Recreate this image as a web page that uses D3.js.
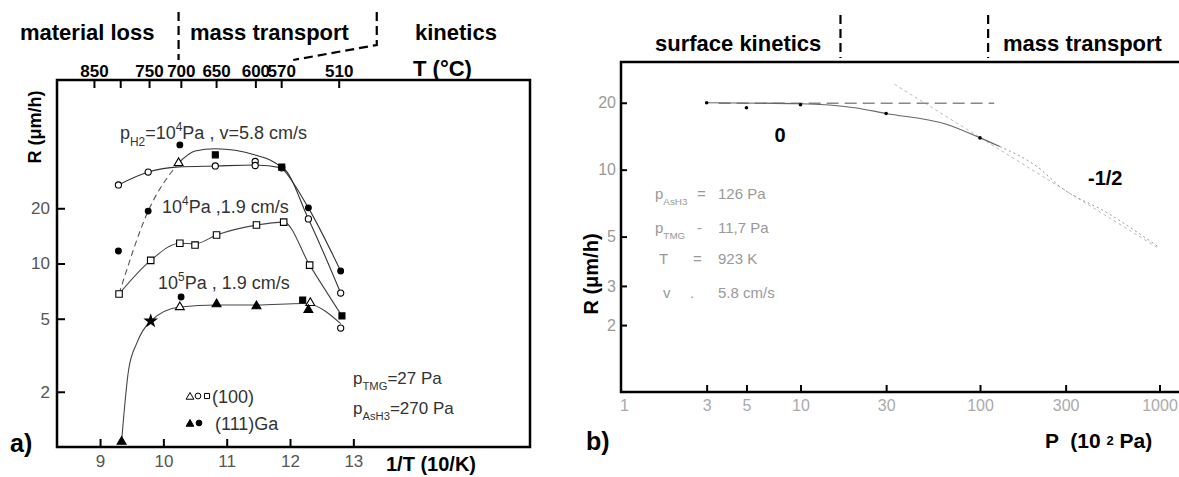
<!DOCTYPE html>
<html>
<head>
<meta charset="utf-8">
<script src="https://cdn.jsdelivr.net/npm/d3@7"></script>
<style>
  body { margin: 0; background: #fff; }
  svg { display: block; }
  text { white-space: pre; }
</style>
</head>
<body>
<svg id="chart" width="1179" height="477"></svg>
<script>
// ---------- Panel a: growth rate R versus reciprocal temperature ----------
const tempTicksC     = [850, 800, 750, 700, 650, 600, 570, 510];
const tempTickLabels = ["850", "", "750", "700", "650", "600", "570", "510"];
const invTTicks      = [9, 10, 11, 12, 13];
const rateTicksA     = [2, 5, 10, 20];

// drawn fits, points are [1/T (1e-4/K), R (um/h)]
const fitH2Fast100     = [[9.29, 26.8], [9.76, 31.5], [10.24, 33.6], [10.82, 34.0], [11.45, 34.4], [11.87, 33.2], [12.29, 17.5], [12.80, 6.9]];
const fitH2Fast111Rise = [[9.30, 6.82], [9.76, 19.3], [10.24, 35.3]];
const fitH2Fast111     = [[10.24, 35.3], [10.50, 41.0], [10.82, 42.2], [11.45, 39.0], [11.87, 33.2], [12.29, 20.1], [12.80, 9.1]];
const fitH2Slow        = [[9.30, 6.82], [9.80, 10.4], [10.26, 12.9], [10.50, 12.8], [10.84, 14.3], [11.47, 16.2], [11.90, 16.8], [12.31, 9.8], [12.82, 5.18]];
const fitHighP         = [[9.34, 1.07], [9.45, 2.62], [9.58, 3.68], [9.80, 4.86], [10.26, 5.79], [10.84, 5.94], [11.47, 5.94], [12.20, 6.05], [12.32, 6.0], [12.80, 4.7]];

// measured points
const openCircles     = [[9.29, 26.8], [9.76, 31.5], [10.82, 34.0], [11.45, 36.0], [11.45, 34.2], [11.87, 33.2], [12.29, 17.5], [12.80, 6.9], [12.80, 4.45]];
const filledCircles   = [[10.26, 44.3], [9.76, 19.3], [9.29, 11.7], [12.29, 20.1], [12.80, 9.1], [10.28, 6.57]];
const openSquares     = [[9.30, 6.82], [9.80, 10.4], [10.26, 12.9], [10.50, 12.6], [10.84, 14.3], [11.47, 16.2], [11.90, 16.8], [12.31, 9.8]];
const filledSquares   = [[10.82, 39.1], [11.87, 33.5], [12.82, 5.18], [12.20, 6.32]];
const openTriangles   = [[10.24, 35.3], [10.26, 5.79], [12.32, 6.1]];
const filledTriangles = [[9.34, 1.07], [12.29, 5.58], [10.84, 6.0], [11.47, 5.85]];
const filledStars     = [[9.80, 4.86]];

// regime boundaries on the 1/T axis
const regimeBoundsA = [10.24, 13.37];
const regimeKinkA   = 12.05;

// ---------- Panel b: growth rate R versus AsH3 pressure ----------
const pressureTicks = [1, 3, 5, 10, 30, 100, 300, 1000];
const rateTicksB    = [2, 3, 5, 10, 20];
const pressureData  = [3, 5, 10, 30, 100];
const rateData      = [20.0, 19.0, 19.6, 17.9, 13.9];
const fitB          = [[3, 20.0], [10, 19.8], [20, 19.0], [30, 17.9], [65, 16.0], [100, 13.9], [129, 12.7]];
const fitBTail      = [[129, 12.7], [212, 10.2], [284, 8.3], [511, 6.4], [987, 4.5]];
const slopeZero     = [[3.5, 19.9], [120, 19.9]];
const slopeHalf     = [[33.4, 24.2], [1000, 4.4]];
const regimeBoundsB = [16.7, 111];

// ---------------------------------------------------------------------------
const svg  = d3.select("#chart");
const FONT = "'Liberation Sans', Arial, Helvetica, sans-serif";
const INK  = "#000";

// text with sub/superscript runs; a run may carry its own x position
function rich(g, x, y, parts, size, fill, anchor) {
  const t = g.append("text")
    .attr("x", x).attr("y", y)
    .attr("font-family", FONT)
    .attr("font-size", size)
    .attr("fill", fill)
    .attr("text-anchor", anchor || "start");
  let shift = 0;
  parts.forEach(([s, k, px]) => {
    const target = k === "sub" ? size * 0.38 : k === "sup" ? -size * 0.42 : 0;
    const span = t.append("tspan")
      .attr("dy", target - shift)
      .attr("font-size", k ? size * 0.66 : size)
      .text(s);
    if (px !== undefined) span.attr("x", px);
    shift = target;
  });
  return t;
}

function boldText(x, y, s, size, anchor) {
  return svg.append("text")
    .attr("x", x).attr("y", y)
    .attr("font-family", FONT)
    .attr("font-weight", "bold")
    .attr("font-size", size)
    .attr("text-anchor", anchor || "start")
    .attr("fill", INK)
    .text(s);
}

function styleAxis(g, size, fill, weight) {
  g.select(".domain").remove();
  g.selectAll(".tick line").attr("stroke", INK).attr("stroke-width", 2);
  g.selectAll(".tick text")
    .attr("font-family", FONT)
    .attr("font-size", size)
    .attr("font-weight", weight || "normal")
    .attr("fill", fill);
}

// ===== Panel a =====
const A  = { left: 57, right: 530, top: 80, bottom: 447 };
const xA = d3.scaleLinear().domain([8.32, 15.79]).range([A.left, A.right]);
const yA = d3.scaleLog().domain([1, 100]).range([A.bottom, A.top]);
const toInvT = c => 1e4 / (c + 273.15);

const gA = svg.append("g");

// axes
const axBottomA = gA.append("g").attr("transform", `translate(0,${A.bottom})`)
  .call(d3.axisBottom(xA).tickValues(invTTicks).tickSize(-8).tickPadding(8).tickFormat(d3.format("d")));
styleAxis(axBottomA, 17, "#555");

const axLeftA = gA.append("g").attr("transform", `translate(${A.left},0)`)
  .call(d3.axisLeft(yA).tickValues(rateTicksA).tickSize(-8).tickPadding(7).tickFormat(d3.format("d")));
styleAxis(axLeftA, 17, "#555");

const axTopA = gA.append("g").attr("transform", `translate(0,${A.top})`)
  .call(d3.axisTop(xA).tickValues(tempTicksC.map(toInvT)).tickSize(-8).tickPadding(3)
    .tickFormat((d, i) => tempTickLabels[i]));
styleAxis(axTopA, 17, INK, "bold");

// frame
gA.append("rect")
  .attr("x", A.left).attr("y", A.top)
  .attr("width", A.right - A.left).attr("height", A.bottom - A.top)
  .attr("fill", "none").attr("stroke", INK).attr("stroke-width", 2.5);

// fitted curves
const lineA = d3.line().x(d => xA(d[0])).y(d => yA(d[1])).curve(d3.curveMonotoneX);
const curveA = (data, dash, color) => gA.append("path")
  .attr("d", lineA(data))
  .attr("fill", "none")
  .attr("stroke", color || "#333")
  .attr("stroke-width", 1.1)
  .attr("stroke-dasharray", dash || null);

curveA(fitH2Fast100);
curveA(fitH2Fast111Rise, "6,4", "#555");
curveA(fitH2Fast111);
curveA(fitH2Slow, null, "#444");
curveA(fitHighP, null, "#444");

// measured points
const sym = (type, size) => d3.symbol().type(type).size(size)();
const pointsA = (data, type, size, filled) => gA.append("g").selectAll("path")
  .data(data).join("path")
  .attr("transform", d => `translate(${xA(d[0])},${yA(d[1])})`)
  .attr("d", sym(type, size))
  .attr("fill", filled ? INK : "#fff")
  .attr("stroke", INK)
  .attr("stroke-width", 1.1);

pointsA(openSquares, d3.symbolSquare, 42, false);
pointsA(openCircles, d3.symbolCircle, 30, false);
pointsA(openTriangles, d3.symbolTriangle, 34, false);
pointsA(filledSquares, d3.symbolSquare, 36, true);
pointsA(filledCircles, d3.symbolCircle, 26, true);
pointsA(filledTriangles, d3.symbolTriangle, 34, true);
pointsA(filledStars, d3.symbolStar, 40, true);

// condition labels
const noteA = "#333";
rich(gA, 120, 139, [["p"], ["H", "sub"], ["2", "sub"], ["=10"], ["4", "sup"], ["Pa , v=5.8 cm/s"]], 18, noteA);
rich(gA, 162, 213, [["10"], ["4", "sup"], ["Pa ,1.9 cm/s"]], 18, noteA);
rich(gA, 158, 289, [["10"], ["5", "sup"], ["Pa , 1.9 cm/s"]], 18, noteA);
rich(gA, 353, 384, [["p"], ["TMG", "sub"], ["=27 Pa"]], 17, noteA);
rich(gA, 353, 414, [["p"], ["AsH", "sub"], ["3", "sub"], ["=270 Pa"]], 17, noteA);

// symbol key
const keyA = gA.append("g");
[[d3.symbolTriangle, 190, 397, false], [d3.symbolCircle, 198, 396, false], [d3.symbolSquare, 207, 396, false],
 [d3.symbolTriangle, 190, 424, true], [d3.symbolCircle, 199, 423, true]].forEach(([t, x, y, f]) => {
  keyA.append("path")
    .attr("transform", `translate(${x},${y})`)
    .attr("d", sym(t, 26))
    .attr("fill", f ? INK : "#fff")
    .attr("stroke", INK).attr("stroke-width", 1);
});
rich(keyA, 212, 403, [["(100)"]], 18, noteA);
rich(keyA, 215, 430, [["(111)Ga"]], 18, noteA);

// regime header
boldText(20, 40, "material loss", 22);
boldText(190, 40, "mass transport", 22);
boldText(415, 40, "kinetics", 22);
boldText(413, 76, "T (°C)", 22);
const dashA = "9,5";
gA.append("line")
  .attr("x1", xA(regimeBoundsA[0])).attr("x2", xA(regimeBoundsA[0]))
  .attr("y1", 12).attr("y2", 60)
  .attr("stroke", INK).attr("stroke-width", 2.2).attr("stroke-dasharray", dashA);
gA.append("path")
  .attr("d", `M${xA(regimeBoundsA[1])},12 L${xA(regimeBoundsA[1])},45 L${xA(regimeKinkA)},60`)
  .attr("fill", "none")
  .attr("stroke", INK).attr("stroke-width", 2.2).attr("stroke-dasharray", dashA);

// axis titles
boldText(0, 0, "R (μm/h)", 18, "middle").attr("transform", "translate(41,127) rotate(-90)");
boldText(386, 471, "1/T (10/K)", 20);
boldText(10, 452, "a)", 25);

// ===== Panel b =====
const B  = { left: 621, right: 1179, top: 62, bottom: 392 };
const xB = d3.scaleLog().domain([1, Math.pow(10, (B.right - B.left) / 179.5)]).range([B.left, B.right]);
const yB = d3.scaleLog().domain([1, 30.5]).range([B.bottom, B.top]);

const gB = svg.append("g");

const axBottomB = gB.append("g").attr("transform", `translate(0,${B.bottom})`)
  .call(d3.axisBottom(xB).tickValues(pressureTicks).tickSize(-7).tickPadding(8).tickFormat(d3.format("d")));
styleAxis(axBottomB, 16, "#aaa");
axBottomB.selectAll(".tick").filter(d => d === 1).select("line").remove();
axBottomB.selectAll(".tick").filter(d => d === 1).select("text").attr("dx", 3);

const axLeftB = gB.append("g").attr("transform", `translate(${B.left},0)`)
  .call(d3.axisLeft(yB).tickValues(rateTicksB).tickSize(-6).tickPadding(5).tickFormat(d3.format("d")));
styleAxis(axLeftB, 16, "#999");

// open frame: left, top and bottom edges
gB.append("path")
  .attr("d", `M${B.right},${B.top} L${B.left},${B.top} L${B.left},${B.bottom} L${B.right},${B.bottom}`)
  .attr("fill", "none").attr("stroke", INK).attr("stroke-width", 2.5);

const lineB = d3.line().x(d => xB(d[0])).y(d => yB(d[1]));
gB.append("path").attr("d", lineB(slopeHalf))
  .attr("fill", "none").attr("stroke", "#bbb").attr("stroke-width", 1).attr("stroke-dasharray", "3,3");
gB.append("path").attr("d", lineB(slopeZero))
  .attr("fill", "none").attr("stroke", "#888").attr("stroke-width", 1.3).attr("stroke-dasharray", "12,6");
gB.append("path").attr("d", lineB.curve(d3.curveMonotoneX)(fitB))
  .attr("fill", "none").attr("stroke", "#666").attr("stroke-width", 1.1);
gB.append("path").attr("d", lineB.curve(d3.curveMonotoneX)(fitBTail))
  .attr("fill", "none").attr("stroke", "#999").attr("stroke-width", 1).attr("stroke-dasharray", "2,3");

gB.append("g").selectAll("circle")
  .data(pressureData.map((p, i) => [p, rateData[i]])).join("circle")
  .attr("cx", d => xB(d[0])).attr("cy", d => yB(d[1]))
  .attr("r", 1.8).attr("fill", INK);

// slope labels
boldText(780, 142, "0", 20, "middle");
boldText(1088, 185, "-1/2", 20);

// growth conditions, values aligned in one column
const noteB = "#999";
rich(gB, 655, 199, [["p"], ["AsH", "sub"], ["3", "sub"], ["=", null, 697], ["126 Pa", null, 718]], 15, noteB);
rich(gB, 655, 233, [["p"], ["TMG", "sub"], ["-", null, 697], ["11,7 Pa", null, 718]], 15, noteB);
rich(gB, 659, 264, [["T"], ["=", null, 693], ["923 K", null, 718]], 15, noteB);
rich(gB, 663, 298, [["v"], [".", null, 690], ["5.8 cm/s", null, 718]], 15, noteB);

// regime header
boldText(655, 51, "surface kinetics", 22);
boldText(1003, 51, "mass transport", 22);
regimeBoundsB.forEach(p => {
  gB.append("line")
    .attr("x1", xB(p)).attr("x2", xB(p))
    .attr("y1", 15).attr("y2", 58)
    .attr("stroke", INK).attr("stroke-width", 2.2).attr("stroke-dasharray", "9,5");
});

// axis titles
boldText(0, 0, "R (μm/h)", 20, "middle").attr("transform", "translate(598,274) rotate(-90)");
const pLabel = svg.append("text")
  .attr("x", 1045).attr("y", 448)
  .attr("font-family", FONT).attr("font-weight", "bold").attr("font-size", 21).attr("fill", INK);
pLabel.append("tspan").text("P  (10 ");
pLabel.append("tspan").attr("font-size", 13).attr("dy", -3).text("2");
pLabel.append("tspan").attr("dy", 3).text(" Pa)");
boldText(586, 450, "b)", 25);
</script>
</body>
</html>
